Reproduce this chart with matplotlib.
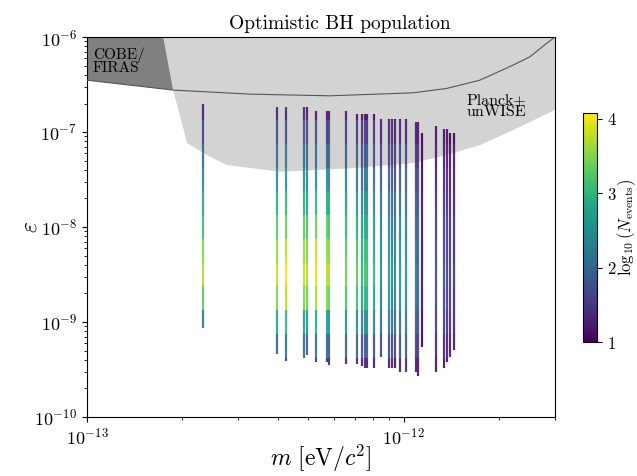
import numpy as np
import matplotlib
matplotlib.use('Agg')
import matplotlib.pyplot as plt
from matplotlib.collections import LineCollection
from matplotlib.colors import Normalize
from matplotlib.ticker import NullFormatter

plt.rcParams['font.family'] = 'serif'
plt.rcParams['font.serif'] = ['cmr10']
plt.rcParams['mathtext.fontset'] = 'cm'
plt.rcParams['axes.formatter.use_mathtext'] = True

# boson masses of the BH columns [eV/c^2]
masses = [2.33e-13, 3.97e-13, 4.24e-13, 4.85e-13, 4.94e-13, 5.27e-13, 5.70e-13,
          5.80e-13, 6.57e-13, 7.12e-13, 7.37e-13, 7.53e-13, 7.65e-13, 8.04e-13,
          8.50e-13, 8.99e-13, 9.20e-13, 9.37e-13, 9.73e-13, 1.013e-12, 1.093e-12,
          1.111e-12, 1.144e-12, 1.264e-12, 1.337e-12, 1.371e-12, 1.403e-12, 1.443e-12]
eps_top = [1.97e-7, 1.82e-7, 1.82e-7, 1.82e-7, 1.82e-7, 1.67e-7, 1.67e-7,
           1.67e-7, 1.67e-7, 1.54e-7, 1.54e-7, 1.54e-7, 1.54e-7, 1.54e-7,
           1.39e-7, 1.39e-7, 1.39e-7, 1.39e-7, 1.39e-7, 1.39e-7, 1.28e-7,
           1.28e-7, 9.84e-8, 1.16e-7, 1.08e-7, 1.08e-7, 9.84e-8, 9.84e-8]
eps_bot = [8.65e-10, 4.60e-10, 3.88e-10, 4.21e-10, 4.49e-10, 3.82e-10, 3.76e-10,
           3.53e-10, 3.59e-10, 3.59e-10, 3.47e-10, 3.26e-10, 3.26e-10, 3.26e-10,
           4.25e-10, 3.26e-10, 3.26e-10, 3.26e-10, 2.96e-10, 2.96e-10, 2.96e-10,
           2.72e-10, 5.50e-10, 2.96e-10, 3.26e-10, 3.82e-10, 4.31e-10, 5.07e-10]

# log10(epsilon) at which the colour of each column was read
eps_levels = [-6.75, -7.0, -7.25, -7.5, -7.75, -8.0, -8.25, -8.5, -8.75, -9.0, -9.25, -9.5]
nan = np.nan
log_n = [
    [1.2, 1.6, 2.0, 2.4, 2.8, 3.1, 3.5, 3.7, 3.3, 2.2, nan, nan],
    [1.3, 1.7, 2.1, 2.5, 2.9, 3.3, 3.6, 3.8, 3.5, 2.8, 1.9, nan],
    [1.3, 1.7, 2.2, 2.6, 3.0, 3.4, 3.8, 4.0, 3.8, 3.0, 2.2, 1.4],
    [1.3, 1.7, 2.1, 2.5, 2.9, 3.3, 3.6, 3.8, 3.5, 2.7, 2.0, 1.3],
    [1.2, 1.6, 2.0, 2.4, 2.8, 3.2, 3.5, 3.7, 3.4, 2.6, 1.9, 1.3],
    [1.2, 1.7, 2.1, 2.6, 3.0, 3.4, 3.8, 3.95, 3.7, 2.9, 2.1, 1.4],
    [1.2, 1.6, 2.0, 2.5, 2.9, 3.3, 3.6, 3.75, 3.5, 2.7, 2.0, 1.3],
    [1.2, 1.6, 2.0, 2.4, 2.8, 3.2, 3.5, 3.7, 3.4, 2.6, 1.9, 1.3],
    [1.2, 1.5, 1.9, 2.3, 2.7, 3.0, 3.3, 3.45, 3.2, 2.6, 1.9, 1.3],
    [1.1, 1.5, 1.9, 2.2, 2.6, 2.9, 3.2, 3.3, 3.1, 2.5, 1.9, 1.3],
    [1.1, 1.4, 1.7, 2.0, 2.4, 2.7, 2.9, 3.0, 2.8, 2.3, 1.7, 1.2],
    [1.1, 1.5, 1.8, 2.2, 2.5, 2.8, 3.1, 3.2, 3.0, 2.4, 1.8, 1.3],
    [1.1, 1.4, 1.8, 2.1, 2.5, 2.8, 3.0, 3.1, 2.9, 2.4, 1.8, 1.2],
    [1.1, 1.4, 1.7, 2.1, 2.4, 2.7, 2.9, 3.0, 2.8, 2.3, 1.7, 1.2],
    [1.1, 1.3, 1.6, 1.8, 2.1, 2.3, 2.4, 2.5, 2.3, 2.0, 1.6, 1.2],
    [1.1, 1.3, 1.6, 1.9, 2.2, 2.4, 2.6, 2.7, 2.6, 2.2, 1.7, 1.2],
    [1.1, 1.3, 1.5, 1.8, 2.0, 2.2, 2.4, 2.5, 2.4, 2.1, 1.6, 1.2],
    [1.0, 1.2, 1.5, 1.7, 2.0, 2.2, 2.3, 2.4, 2.3, 2.0, 1.6, 1.1],
    [1.1, 1.3, 1.6, 1.9, 2.1, 2.4, 2.5, 2.6, 2.5, 2.1, 1.7, 1.2],
    [1.1, 1.3, 1.6, 1.9, 2.1, 2.3, 2.5, 2.6, 2.5, 2.2, 1.8, 1.3],
    [1.0, 1.2, 1.4, 1.6, 1.8, 1.9, 2.0, 2.1, 2.0, 1.8, 1.5, 1.2],
    [1.0, 1.2, 1.4, 1.6, 1.7, 1.9, 2.0, 2.0, 1.9, 1.7, 1.4, 1.1],
    [1.0, 1.0, 1.0, 1.05, 1.1, 1.1, 1.1, 1.1, 1.1, 1.05, 1.0, nan],
    [1.0, 1.1, 1.2, 1.3, 1.4, 1.5, 1.6, 1.7, 1.6, 1.5, 1.3, 1.1],
    [1.0, 1.1, 1.2, 1.3, 1.4, 1.5, 1.6, 1.7, 1.6, 1.5, 1.3, 1.1],
    [1.0, 1.1, 1.2, 1.3, 1.4, 1.5, 1.55, 1.6, 1.55, 1.4, 1.25, 1.1],
    [1.0, 1.0, 1.1, 1.2, 1.3, 1.4, 1.45, 1.5, 1.45, 1.35, 1.2, 1.05],
    [1.0, 1.0, 1.1, 1.15, 1.2, 1.3, 1.3, 1.35, 1.3, 1.25, 1.15, nan],
]

# excluded regions
planck_m = [1.74e-13, 1.87e-13, 2.07e-13, 2.39e-13, 2.76e-13, 4.06e-13, 6.60e-13,
            1.068e-12, 1.364e-12, 1.737e-12, 2.21e-12, 3e-12, 3e-12]
planck_eps = [1e-6, 2.77e-7, 7.66e-8, 5.73e-8, 4.50e-8, 3.82e-8, 4.13e-8,
              4.72e-8, 5.73e-8, 7.29e-8, 1.05e-7, 1.71e-7, 1e-6]
cobe_m = [1e-13, 1.74e-13, 1.87e-13, 1e-13]
cobe_eps = [1e-6, 1e-6, 2.77e-7, 3.52e-7]
line_m = [1e-13, 1.87e-13, 3.27e-13, 5.84e-13, 1.068e-12, 1.364e-12, 1.737e-12,
          2.21e-12, 2.50e-12, 2.82e-12, 3e-12]
line_eps = [3.52e-7, 2.77e-7, 2.51e-7, 2.41e-7, 2.59e-7, 2.88e-7, 3.52e-7,
            5.07e-7, 6.21e-7, 8.59e-7, 1e-6]

x_major = [1e-13, 1e-12]
x_minor = [2e-13, 3e-13, 4e-13, 5e-13, 6e-13, 7e-13, 8e-13, 9e-13, 2e-12, 3e-12]
y_major = [1e-10, 1e-9, 1e-8, 1e-7, 1e-6]
y_minor = [k * 10.0 ** e for e in range(-10, -6) for k in range(2, 10)]

fig = plt.figure(figsize=(6.37, 4.76), dpi=100)
ax = fig.add_axes([0.1366, 0.124, 0.7347, 0.798])
cax = fig.add_axes([0.915, 0.2815, 0.022, 0.481])

ax.fill(planck_m, planck_eps, color='lightgrey', lw=0, zorder=1)
ax.fill(cobe_m, cobe_eps, color='grey', lw=0, zorder=2)
ax.plot(line_m, line_eps, color='#555555', lw=0.8, zorder=3)

half = 0.125
segs, vals = [], []
for m, top, bot, row in zip(masses, eps_top, eps_bot, log_n):
    for lev, v in zip(eps_levels, row):
        if np.isnan(v):
            continue
        lo = max(10 ** (lev - half), bot)
        hi = min(10 ** (lev + half), top)
        if lo < hi:
            segs.append([(m, lo), (m, hi)])
            vals.append(v)

norm = Normalize(vmin=1, vmax=4.08)
lc = LineCollection(segs, cmap='viridis', norm=norm, linewidths=1.6,
                    alpha=0.9, zorder=4, capstyle='butt')
lc.set_array(np.array(vals))
ax.add_collection(lc)

ax.set_xscale('log')
ax.set_yscale('log')
ax.set_xlim(1e-13, 3e-12)
ax.set_ylim(1e-10, 1e-6)
ax.set_xticks(x_major)
ax.set_xticks(x_minor, minor=True)
ax.set_yticks(y_major)
ax.set_yticks(y_minor, minor=True)
ax.xaxis.set_minor_formatter(NullFormatter())
ax.yaxis.set_minor_formatter(NullFormatter())
ax.tick_params(labelsize=13)

ax.text(1.045e-13, 7.85e-7, 'COBE/\nFIRAS', fontsize=11, linespacing=0.85,
        va='top', zorder=5)
ax.text(1.58e-12, 2.57e-7, 'Planck+\nunWISE', fontsize=11.5, linespacing=0.85,
        va='top', zorder=5)

ax.set_title('Optimistic BH population', fontsize=14, pad=6, x=0.54)
ax.set_xlabel(r'$m\ [\mathrm{eV}/c^2]$', fontsize=17, labelpad=-3)
ax.set_ylabel(r'$\varepsilon$', fontsize=17, labelpad=-5)

cb = fig.colorbar(lc, cax=cax)
cb.solids.set_alpha(1)
cb.set_ticks([1, 2, 3, 4])
cb.ax.tick_params(labelsize=12)
cb.set_label(r'$\log_{10}(N_\mathrm{events})$', fontsize=12, labelpad=-1)

fig.savefig('out.png', dpi=100)
